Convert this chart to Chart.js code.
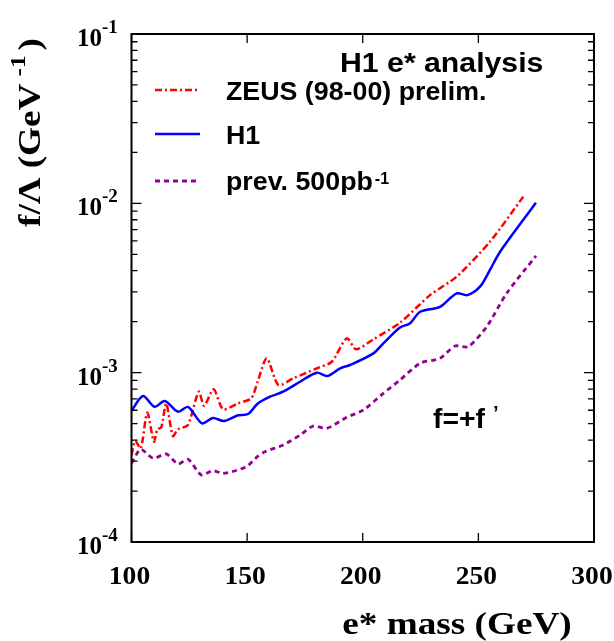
<!DOCTYPE html>
<html>
<head>
<meta charset="utf-8">
<script src="https://cdn.jsdelivr.net/npm/chart.js@4.4.0/dist/chart.umd.min.js"></script>
<style>
  html, body { margin: 0; padding: 0; background: #fff; }
  #wrap { width: 614px; height: 641px; }
</style>
</head>
<body>
<div id="wrap"><canvas id="limitChart" width="614" height="641"></canvas></div>
<script>
// limits on f/Lambda vs e* mass
var zeusMass  = [100, 101.6, 104.0, 106.8, 109.7, 111.2, 112.9, 115.0, 117.9, 120.1, 124.4, 129.1, 131.4, 135.5, 139.6, 146.1, 151.8, 154.4, 158.5, 163.5, 170.0, 180.1, 186.6, 193.1, 197.1, 204.6, 216.1, 229.1, 240.6, 255.0, 269.4];
var zeusLimit = [3.26e-4, 3.96e-4, 3.57e-4, 5.80e-4, 3.91e-4, 4.63e-4, 4.76e-4, 6.59e-4, 4.22e-4, 4.63e-4, 4.91e-4, 7.72e-4, 6.36e-4, 7.97e-4, 6.08e-4, 6.59e-4, 7.06e-4, 8.72e-4, 1.216e-3, 8.46e-4, 9.26e-4, 1.061e-3, 1.16e-3, 1.596e-3, 1.374e-3, 1.574e-3, 1.972e-3, 2.87e-3, 3.69e-3, 5.93e-3, 1.094e-2];

var h1Mass  = [100, 105.0, 110.0, 114.4, 120.1, 124.4, 130.5, 135.2, 140.0, 146.1, 150.4, 154.4, 159.9, 165.6, 172.9, 180.1, 184.7, 190.2, 194.5, 204.6, 208.9, 216.1, 220.5, 224.8, 233.4, 240.6, 245.2, 250.7, 255.0, 259.4, 274.9];
var h1Limit = [5.96e-4, 7.28e-4, 6.29e-4, 6.80e-4, 5.88e-4, 6.27e-4, 5.02e-4, 5.40e-4, 5.18e-4, 5.60e-4, 5.70e-4, 6.53e-4, 7.21e-4, 7.72e-4, 8.84e-4, 1.0e-3, 9.56e-4, 1.061e-3, 1.11e-3, 1.30e-3, 1.49e-3, 1.85e-3, 1.96e-3, 2.29e-3, 2.45e-3, 2.94e-3, 2.87e-3, 3.22e-3, 4.04e-3, 5.18e-3, 1.008e-2];

var prevMass  = [100, 104.0, 109.3, 115.0, 120.1, 124.4, 130.2, 135.2, 139.6, 149.6, 154.4, 157.7, 165.6, 172.9, 178.6, 184.4, 193.1, 200.3, 208.9, 216.1, 224.8, 233.4, 239.9, 245.6, 253.6, 262.2, 274.9];
var prevLimit = [2.92e-4, 3.53e-4, 3.12e-4, 3.31e-4, 2.89e-4, 3.08e-4, 2.49e-4, 2.64e-4, 2.54e-4, 2.78e-4, 3.19e-4, 3.41e-4, 3.74e-4, 4.28e-4, 4.84e-4, 4.69e-4, 5.45e-4, 6.02e-4, 7.55e-4, 9.05e-4, 1.136e-3, 1.216e-3, 1.437e-3, 1.423e-3, 1.868e-3, 2.94e-3, 4.89e-3];

var xTicks = [100, 150, 200, 250, 300];
var yExponents = [-4, -3, -2, -1];

var seriesNames = ["ZEUS (98-00) prelim.", "H1", "prev. 500pb"];

function toPoints(xs, ys) {
  return xs.map(function (m, i) { return { x: m, y: ys[i] }; });
}

function stretchText(ctx, str, x, y, font, sx, align) {
  ctx.save();
  ctx.font = font;
  ctx.translate(x, y);
  ctx.scale(sx, 1);
  var w = ctx.measureText(str).width;
  var dx = 0;
  if (align === "center") dx = -w / 2;
  if (align === "right") dx = -w;
  ctx.fillText(str, dx, 0);
  ctx.restore();
  return w * sx;
}

var decoration = {
  id: "decoration",
  afterDatasetsDraw: function (chart) {
    var ctx = chart.ctx;
    var a = chart.chartArea;
    var xs = chart.scales.x, ys = chart.scales.y;
    ctx.save();
    ctx.fillStyle = "#000";
    ctx.strokeStyle = "#000";

    // frame
    ctx.lineWidth = 2;
    ctx.strokeRect(a.left, a.top, a.right - a.left, a.bottom - a.top);

    // ticks, pointing inward on all four sides
    ctx.lineWidth = 1.3;
    ctx.beginPath();
    xTicks.forEach(function (v) {
      var px = xs.getPixelForValue(v);
      ctx.moveTo(px, a.bottom); ctx.lineTo(px, a.bottom - 9);
      ctx.moveTo(px, a.top); ctx.lineTo(px, a.top + 9);
    });
    for (var d = -4; d <= -2; d++) {
      for (var k = 1; k <= 9; k++) {
        var py = ys.getPixelForValue(k * Math.pow(10, d));
        var len = k === 1 ? 10 : 6;
        ctx.moveTo(a.left, py); ctx.lineTo(a.left + len, py);
        ctx.moveTo(a.right, py); ctx.lineTo(a.right - len, py);
      }
    }
    ctx.stroke();

    // x tick labels
    ctx.textBaseline = "alphabetic";
    xTicks.forEach(function (v) {
      stretchText(ctx, String(v), xs.getPixelForValue(v) - 2, 584, "bold 26px 'Liberation Serif'", 1.06, "center");
    });

    // y tick labels 10^n
    yExponents.forEach(function (e) {
      var py = ys.getPixelForValue(Math.pow(10, e));
      stretchText(ctx, "10", 102, py + 12, "bold 25px 'Liberation Serif'", 1, "right");
      stretchText(ctx, String(e), 102, py - 1, "bold 19px 'Liberation Serif'", 1, "left");
    });

    // x axis title
    stretchText(ctx, "e* mass (GeV)", 457, 634, "bold 31px 'Liberation Serif'", 1.2, "center");

    // y axis title (rotated)
    ctx.save();
    ctx.translate(40, 227);
    ctx.rotate(-Math.PI / 2);
    ctx.scale(1.2, 1);
    ctx.font = "bold 31px 'Liberation Serif'";
    ctx.fillText("f/\u039B (GeV", 0, 0);
    var w1 = ctx.measureText("f/\u039B (GeV").width;
    ctx.font = "bold 21px 'Liberation Serif'";
    ctx.fillText("-1", w1 + 6, -15);
    var w2 = ctx.measureText("-1").width;
    ctx.font = "bold 31px 'Liberation Serif'";
    ctx.fillText(")", w1 + 6 + w2 + 4, 0);
    ctx.restore();

    // title and legend
    stretchText(ctx, "H1 e* analysis", 340, 72, "bold 27px 'Liberation Sans'", 1.12, "left");
    var legendY = [90, 134, 181];
    var legendBase = [100, 144, 190];
    chart.data.datasets.forEach(function (ds, i) {
      ctx.save();
      ctx.strokeStyle = ds.borderColor;
      ctx.lineWidth = ds.borderWidth;
      ctx.setLineDash(ds.borderDash || []);
      ctx.beginPath();
      ctx.moveTo(155, legendY[i]);
      ctx.lineTo(200, legendY[i]);
      ctx.stroke();
      ctx.restore();
      var w = stretchText(ctx, seriesNames[i], 226, legendBase[i], "bold 26px 'Liberation Sans'", 1.03, "left");
      if (i === 2) {
        stretchText(ctx, "-1", 226 + w + 2, 184, "bold 16px 'Liberation Sans'", 1, "left");
      }
    });

    // coupling annotation
    var wf = stretchText(ctx, "f=+f", 433, 428, "bold 27px 'Liberation Sans'", 1.05, "left");
    stretchText(ctx, "\u2019", 433 + wf + 8, 420, "bold 20px 'Liberation Sans'", 1, "left");

    ctx.restore();
  }
};

new Chart("limitChart", {
  type: "line",
  data: {
    datasets: [{
      label: seriesNames[0],
      data: toPoints(zeusMass, zeusLimit),
      borderColor: "#ff0000",
      borderWidth: 2.5,
      borderDash: [7, 3, 2, 3],
      pointRadius: 0,
      tension: 0.25,
      order: 2
    }, {
      label: seriesNames[1],
      data: toPoints(h1Mass, h1Limit),
      borderColor: "#0000ff",
      borderWidth: 2.5,
      pointRadius: 0,
      tension: 0.3,
      order: 1
    }, {
      label: seriesNames[2],
      data: toPoints(prevMass, prevLimit),
      borderColor: "#960096",
      borderWidth: 2.8,
      borderDash: [5, 4],
      pointRadius: 0,
      tension: 0.25,
      order: 3
    }]
  },
  options: {
    responsive: false,
    animation: false,
    layout: { padding: { left: 131.5, right: 20, top: 34, bottom: 99 } },
    plugins: {
      legend: { display: false },
      tooltip: { enabled: false },
      title: { display: false }
    },
    scales: {
      x: {
        type: "linear",
        min: 100,
        max: 300,
        grid: { display: false },
        border: { display: false },
        ticks: { display: false },
        afterFit: function (s) { s.height = 0; }
      },
      y: {
        type: "logarithmic",
        min: 1e-4,
        max: 1e-1,
        grid: { display: false },
        border: { display: false },
        ticks: { display: false },
        afterFit: function (s) { s.width = 0; }
      }
    }
  },
  plugins: [decoration]
});
</script>
</body>
</html>
